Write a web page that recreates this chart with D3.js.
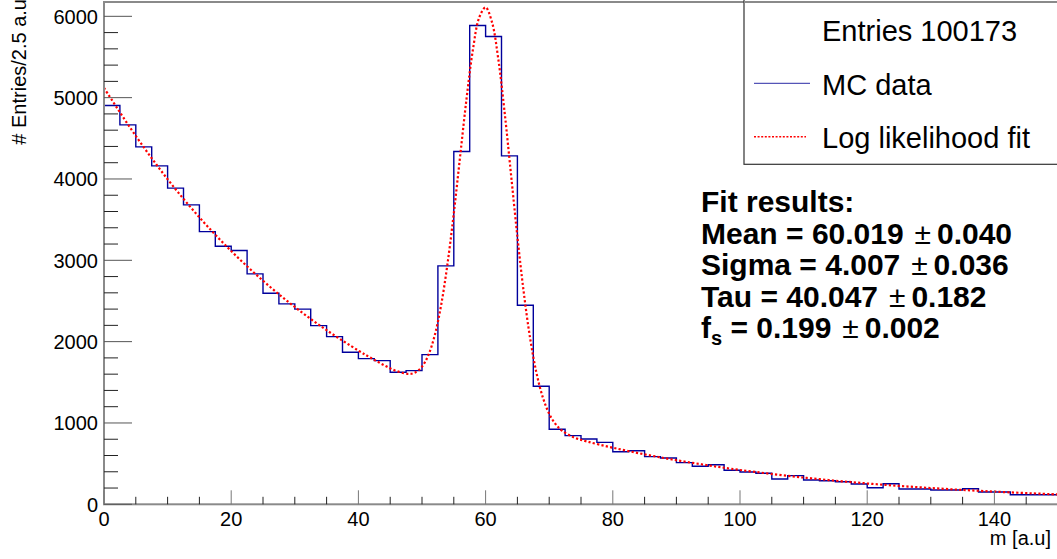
<!DOCTYPE html>
<html>
<head>
<meta charset="utf-8">
<script src="https://cdn.jsdelivr.net/npm/d3@7"></script>
<style>
  html, body { margin: 0; padding: 0; background: #fff; }
  svg { display: block; }
  text { font-family: "Liberation Sans", Arial, Helvetica, sans-serif; white-space: pre; }
</style>
</head>
<body>
<svg id="chart" width="1057" height="559"></svg>
<script>
// ---- data ----
const binWidth = 2.5;
const binStart = 0;
// histogram contents, 60 bins of 2.5 over [0,150]
const histCounts = [
  4903, 4665, 4395, 4161, 3887, 3681, 3353, 3173, 3120, 2833,
  2595, 2464, 2400, 2197, 2062, 1870, 1791, 1766, 1624, 1644,
  1840, 2931, 4337, 5887, 5752, 4284, 2448, 1451, 922, 844,
  803, 762, 647, 659, 586, 569, 512, 467, 487, 418,
  397, 381, 311, 352, 299, 290, 278, 250, 204, 253,
  188, 188, 176, 176, 192, 151, 151, 118, 118, 118
];
// fit curve samples
const fitX = [0, 5, 10, 15, 20, 25, 30, 35, 40, 42, 44, 46, 48, 49, 50, 51, 52, 53, 54, 55, 56, 57, 58, 59, 60,
              61, 62, 63, 64, 65, 66, 67, 68, 69, 70, 71, 72, 74, 76, 80, 85, 90, 95, 100, 110, 120, 130, 140, 150];
const fitY = [5120, 4529, 3997, 3528, 3114, 2749, 2426, 2141, 1890, 1798, 1712, 1638, 1603, 1624, 1692, 1834, 2077, 2445, 2951, 3577, 4283, 4985, 5587, 5986, 6109,
              5929, 5472, 4813, 4053, 3290, 2605, 2042, 1615, 1314, 1113, 986, 906, 819, 771, 696, 614, 542, 479, 422, 329, 256, 200, 156, 121];
const xTicks = [0, 20, 40, 60, 80, 100, 120, 140];
const yTicks = [0, 1000, 2000, 3000, 4000, 5000, 6000];
const legendEntries = ["Entries 100173", "MC data", "Log likelihood fit"];
const fitLines = [
  {name: "Mean", val: "60.019", err: "0.040"},
  {name: "Sigma", val: "4.007", err: "0.036"},
  {name: "Tau", val: "40.047", err: "0.182"}
];
const fsLine = {val: "0.199", err: "0.002"};

// ---- layout ----
const svg = d3.select("#chart");
const L = 104, R = 1058, T = 2, B = 504.3;
const x = d3.scaleLinear().domain([0, 150]).range([L, R]);
const y = d3.scaleLinear().domain([0, 6176]).range([B, T]);

// histogram step path
const pts = histCounts.map((c, i) => [binStart + i * binWidth, c]);
pts.push([binStart + histCounts.length * binWidth, histCounts[histCounts.length - 1]]);
const stepLine = d3.line().x(d => x(d[0])).y(d => y(d[1])).curve(d3.curveStepAfter);
svg.append("path").attr("d", stepLine(pts))
  .attr("fill", "none").attr("stroke", "#00009c").attr("stroke-width", 1.4);

// fit curve
const fitLine = d3.line().x((d, i) => x(fitX[i])).y((d, i) => y(fitY[i])).curve(d3.curveCatmullRom.alpha(0.5));
svg.append("path").attr("d", fitLine(fitX))
  .attr("fill", "none").attr("stroke", "#ff0000").attr("stroke-width", 2.2)
  .attr("stroke-dasharray", "2.2,2.2");

// frame
svg.append("rect").attr("x", L).attr("y", T).attr("width", R - L).attr("height", B - T)
  .attr("fill", "none").attr("stroke", "#8a8a8a").attr("stroke-width", 2);

// x axis ticks
const xMinor = d3.range(0, 151, 5);
svg.append("g").selectAll("line").data(xMinor).join("line")
  .attr("x1", d => x(d)).attr("x2", d => x(d))
  .attr("y1", B).attr("y2", d => B - (d % 20 === 0 ? 14 : 7.5))
  .attr("stroke", d => d % 20 === 0 ? "#777" : "#222").attr("stroke-width", 1);
svg.append("g").selectAll("text").data(xTicks).join("text")
  .attr("x", d => x(d)).attr("y", 526).attr("text-anchor", "middle")
  .attr("font-size", 20).attr("fill", "#000").text(d => d);

// y axis ticks
const yMinor = d3.range(0, 6177, 200);
svg.append("g").selectAll("line").data(yMinor).join("line")
  .attr("x1", L).attr("x2", d => L + (d % 1000 === 0 ? 28 : 14))
  .attr("y1", d => y(d)).attr("y2", d => y(d))
  .attr("stroke", d => d % 1000 === 0 ? "#555" : "#222").attr("stroke-width", 1);
svg.append("g").selectAll("text").data(yTicks).join("text")
  .attr("x", 98).attr("y", d => y(d)).attr("dy", "0.36em").attr("text-anchor", "end")
  .attr("font-size", 20).attr("fill", "#000").text(d => d);

// axis titles
svg.append("text").attr("x", 1051).attr("y", 545).attr("text-anchor", "end")
  .attr("font-size", 20).text("m [a.u]");
svg.append("text").attr("transform", "translate(26,-1) rotate(-90)")
  .attr("text-anchor", "end").attr("font-size", 20).text("# Entries/2.5 a.u");

// legend box
const lg = svg.append("g");
lg.append("rect").attr("x", 744).attr("y", -2).attr("width", 330).attr("height", 166.3)
  .attr("fill", "#fff").attr("stroke", "#333").attr("stroke-width", 1.2);
svg.append("line").attr("x1", 744).attr("x2", R).attr("y1", T).attr("y2", T)
  .attr("stroke", "#8a8a8a").attr("stroke-width", 2);
const lgBase = [40.5, 95, 148];
lg.selectAll("text.lt").data(legendEntries).join("text").attr("class", "lt")
  .attr("x", 822).attr("y", (d, i) => lgBase[i]).attr("font-size", 29).text(d => d);
lg.append("line").attr("x1", 754).attr("x2", 810).attr("y1", 83.3).attr("y2", 83.3)
  .attr("stroke", "#2b2ba6").attr("stroke-width", 1);
lg.append("line").attr("x1", 754).attr("x2", 806).attr("y1", 136.7).attr("y2", 136.7)
  .attr("stroke", "#ff0000").attr("stroke-width", 1.5).attr("stroke-dasharray", "2,1.6");

// fit results text
const fr = svg.append("g").attr("font-weight", "bold").attr("font-size", 30);
fr.append("text").attr("x", 701).attr("y", 212).text("Fit results:");
const frBase = [243.5, 275, 306.5];
function addPm(t, val, err) {
  t.append("tspan").text(` = ${val} \u200a`);
  t.append("tspan").attr("font-weight", "normal").text("\u00b1");
  t.append("tspan").text(`\u2009${err}`);
}
fitLines.forEach((f, i) => {
  const t = fr.append("text").attr("x", 701).attr("y", frBase[i]);
  t.append("tspan").text(f.name);
  addPm(t, f.val, f.err);
});
const fsT = fr.append("text").attr("x", 701).attr("y", 338);
fsT.append("tspan").text("f");
fsT.append("tspan").attr("font-size", 20).attr("dy", 7).text("s");
const rest = fsT.append("tspan").attr("dy", -7).text(` = ${fsLine.val} \u200a`);
fsT.append("tspan").attr("font-weight", "normal").text("\u00b1");
fsT.append("tspan").text(`\u2009${fsLine.err}`);
</script>
</body>
</html>
